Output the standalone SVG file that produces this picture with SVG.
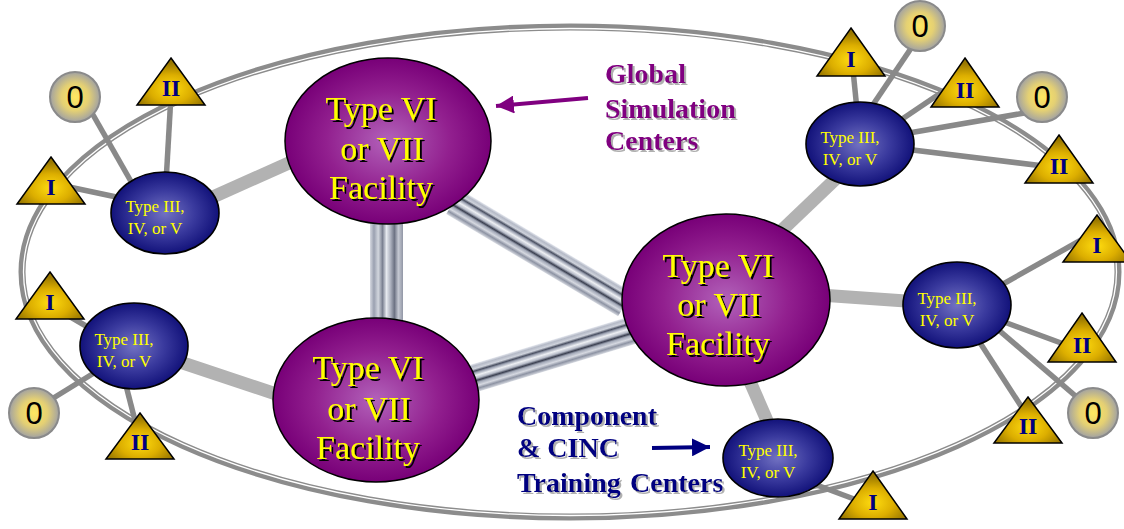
<svg xmlns="http://www.w3.org/2000/svg" width="1124" height="529" viewBox="0 0 1124 529">
<defs>
<radialGradient id="gPurple" cx="0.5" cy="0.5" r="0.5">
<stop offset="0" stop-color="#b262ba"/><stop offset="0.6" stop-color="#92208f"/><stop offset="1" stop-color="#780078"/>
</radialGradient>
<radialGradient id="gBlue" cx="0.5" cy="0.5" r="0.5">
<stop offset="0" stop-color="#7272c2"/><stop offset="0.55" stop-color="#3a3a9e"/><stop offset="1" stop-color="#12127a"/>
</radialGradient>
<radialGradient id="gGold" cx="0.5" cy="0.66" r="0.55">
<stop offset="0" stop-color="#ffdc10"/><stop offset="0.55" stop-color="#dcae00"/><stop offset="1" stop-color="#9a7800"/>
</radialGradient>
<radialGradient id="gZero" cx="0.5" cy="0.5" r="0.5">
<stop offset="0" stop-color="#ffe860"/><stop offset="0.55" stop-color="#e4d074"/><stop offset="1" stop-color="#a2a2a2"/>
</radialGradient>
<linearGradient id="gTube" x1="0" y1="0" x2="0" y2="1">
<stop offset="0" stop-color="#e4e7ee"/><stop offset="0.08" stop-color="#b4b9c6"/><stop offset="0.18" stop-color="#cfd3dc"/>
<stop offset="0.26" stop-color="#4a5062"/><stop offset="0.32" stop-color="#9ca2b2"/><stop offset="0.42" stop-color="#eef0f4"/>
<stop offset="0.52" stop-color="#b6bbc8"/><stop offset="0.6" stop-color="#3a3f50"/><stop offset="0.67" stop-color="#a3a9b8"/>
<stop offset="0.78" stop-color="#d6d9e1"/><stop offset="0.88" stop-color="#8d93a3"/><stop offset="1" stop-color="#d8dbe2"/>
</linearGradient>
<linearGradient id="gTubeV" x1="0" y1="0" x2="1" y2="0">
<stop offset="0" stop-color="#d6d9e1"/><stop offset="0.12" stop-color="#9aa0b0"/><stop offset="0.25" stop-color="#d2d6de"/>
<stop offset="0.38" stop-color="#7b8192"/><stop offset="0.5" stop-color="#e6e9ef"/><stop offset="0.62" stop-color="#aeb3c0"/>
<stop offset="0.74" stop-color="#6d7384"/><stop offset="0.86" stop-color="#c4c8d2"/><stop offset="1" stop-color="#9297a6"/>
</linearGradient>
<filter id="shBlack" x="-10%" y="-10%" width="130%" height="140%">
<feDropShadow dx="2" dy="2" stdDeviation="0.2" flood-color="#000000"/>
</filter>
<filter id="shGray" x="-10%" y="-10%" width="130%" height="140%">
<feDropShadow dx="2" dy="2" stdDeviation="0.6" flood-color="#b0b0b0"/>
</filter>
<marker id="arrPurple" markerUnits="userSpaceOnUse" markerWidth="20" markerHeight="18" refX="18" refY="9" orient="auto">
<path d="M0,0 L18,9 L0,18 Z" fill="#800080"/>
</marker>
<marker id="arrNavy" markerUnits="userSpaceOnUse" markerWidth="20" markerHeight="18" refX="18" refY="9" orient="auto">
<path d="M0,0 L18,9 L0,18 Z" fill="#000080"/>
</marker>
<style>
.ring{fill:none;stroke:#8c8c8c;stroke-width:7}
.ringIn{fill:none;stroke:#ffffff;stroke-width:1.3}
.thin{stroke:#898989;stroke-width:5.5;fill:none}
.thick{stroke:#b2b2b2;stroke-width:13;fill:none}
.purple{fill:url(#gPurple);stroke:#000;stroke-width:1.5}
.blue{fill:url(#gBlue);stroke:#000;stroke-width:1.6}
.tri{fill:url(#gGold);stroke:#000;stroke-width:1.5;stroke-linejoin:miter}
.zero{fill:url(#gZero);stroke:#8a8a8a;stroke-width:2}
.big{font-family:"Liberation Serif","Times New Roman",serif;font-size:34px;fill:#ffff00;text-anchor:middle;filter:url(#shBlack)}
.small{font-family:"Liberation Serif","Times New Roman",serif;font-size:17px;fill:#ffff00;text-anchor:middle}
.num{font-family:"Liberation Serif","Times New Roman",serif;font-size:24px;font-weight:bold;fill:#000080;text-anchor:middle}
.zt{font-family:"Liberation Sans",Arial,sans-serif;font-size:31px;fill:#000;text-anchor:middle}
.lblP{font-family:"Liberation Serif","Times New Roman",serif;font-size:28px;font-weight:bold;fill:#800080;filter:url(#shGray)}
.lblN{font-family:"Liberation Serif","Times New Roman",serif;font-size:28px;font-weight:bold;fill:#000080;filter:url(#shGray)}
</style>
</defs>
<rect width="1124" height="529" fill="#ffffff"/>
<g id="ring">
<ellipse class="ring" cx="570" cy="272" rx="548" ry="245"/>
<ellipse class="ringIn" cx="570" cy="272" rx="546.5" ry="243.5"/>
</g>
<g id="connectors">
<line class="thin" x1="84" y1="99" x2="141" y2="199"/>
<line class="thin" x1="171" y1="95" x2="165" y2="200"/>
<line class="thin" x1="55" y1="184" x2="140" y2="202"/>
<line class="thin" x1="50" y1="305" x2="110" y2="340"/>
<line class="thin" x1="34" y1="410" x2="115" y2="360"/>
<line class="thin" x1="122" y1="370" x2="140" y2="440"/>
<line class="thin" x1="852" y1="60" x2="860" y2="140"/>
<line class="thin" x1="920" y1="35" x2="864" y2="118"/>
<line class="thin" x1="960" y1="80" x2="880" y2="134"/>
<line class="thin" x1="1042" y1="110" x2="880" y2="138"/>
<line class="thin" x1="1060" y1="168" x2="880" y2="146"/>
<line class="thin" x1="1090" y1="235" x2="980" y2="297"/>
<line class="thin" x1="1080" y1="350" x2="980" y2="313"/>
<line class="thin" x1="1093" y1="411" x2="980" y2="314"/>
<line class="thin" x1="1030" y1="420" x2="975" y2="335"/>
<line class="thin" x1="790" y1="475" x2="870" y2="505"/>
<line class="thick" x1="195" y1="205" x2="300" y2="158"/>
<line class="thick" x1="165" y1="357" x2="285" y2="397"/>
<line class="thick" x1="780" y1="232" x2="845" y2="170"/>
<line class="thick" x1="820" y1="295" x2="920" y2="302"/>
<line class="thick" x1="745" y1="370" x2="772" y2="432"/>
<rect x="370" y="210" width="33" height="120" fill="url(#gTubeV)"/>
<g transform="translate(462,207) rotate(30.8)"><rect x="-10" y="-14" width="200" height="28" fill="url(#gTube)"/></g>
<g transform="translate(475,378) rotate(-16.9)"><rect x="-10" y="-14" width="180" height="28" fill="url(#gTube)"/></g>
<line x1="588" y1="98" x2="496" y2="106" stroke="#800080" stroke-width="4" marker-end="url(#arrPurple)"/>
<line x1="652" y1="448" x2="710" y2="447" stroke="#000080" stroke-width="4" marker-end="url(#arrNavy)"/>
</g>
<g id="facility-top">
<ellipse class="purple" cx="388" cy="141" rx="103" ry="83"/>
<text class="big" x="381" y="120">Type VI</text>
<text class="big" x="382" y="160">or VII</text>
<text class="big" x="381" y="199">Facility</text>
</g>
<g id="facility-bottom">
<ellipse class="purple" cx="376" cy="400" rx="103" ry="82"/>
<text class="big" x="368" y="379">Type VI</text>
<text class="big" x="369" y="420">or VII</text>
<text class="big" x="368" y="459">Facility</text>
</g>
<g id="facility-right">
<ellipse class="purple" cx="726" cy="300" rx="104" ry="86"/>
<text class="big" x="718" y="277">Type VI</text>
<text class="big" x="719" y="316">or VII</text>
<text class="big" x="718" y="355">Facility</text>
</g>
<g id="center-tl">
<ellipse class="blue" cx="165" cy="213" rx="54" ry="41"/>
<text class="small" x="155" y="212">Type III,</text>
<text class="small" x="155" y="234">IV, or V</text>
</g>
<g id="center-bl">
<ellipse class="blue" cx="134" cy="346" rx="54" ry="43"/>
<text class="small" x="124" y="345">Type III,</text>
<text class="small" x="124" y="367">IV, or V</text>
</g>
<g id="center-tr">
<ellipse class="blue" cx="860" cy="144" rx="54" ry="42"/>
<text class="small" x="850" y="143">Type III,</text>
<text class="small" x="850" y="165">IV, or V</text>
</g>
<g id="center-r">
<ellipse class="blue" cx="957" cy="305" rx="54" ry="43"/>
<text class="small" x="947" y="304">Type III,</text>
<text class="small" x="947" y="326">IV, or V</text>
</g>
<g id="center-b">
<ellipse class="blue" cx="778" cy="458" rx="55" ry="39"/>
<text class="small" x="768" y="456">Type III,</text>
<text class="small" x="768" y="478">IV, or V</text>
</g>
<g id="tri-tl-II"><polygon class="tri" points="171,58 205,105 137,105"/><text class="num" x="171" y="96">II</text></g>
<g id="tri-l-I"><polygon class="tri" points="51,157 85,204 17,204"/><text class="num" x="51" y="195">I</text></g>
<g id="tri-bl-I"><polygon class="tri" points="50,272 84,319 16,319"/><text class="num" x="50" y="310">I</text></g>
<g id="tri-bl-II"><polygon class="tri" points="140,413 174,459 106,459"/><text class="num" x="140" y="450">II</text></g>
<g id="tri-tr-I"><polygon class="tri" points="851,28 885,76 817,76"/><text class="num" x="851" y="67">I</text></g>
<g id="tri-tr-II-a"><polygon class="tri" points="965,58 999,107 931,107"/><text class="num" x="965" y="98">II</text></g>
<g id="tri-tr-II-b"><polygon class="tri" points="1059,135 1093,183 1025,183"/><text class="num" x="1059" y="174">II</text></g>
<g id="tri-r-I"><polygon class="tri" points="1097,215 1131,262 1063,262"/><text class="num" x="1097" y="253">I</text></g>
<g id="tri-r-II"><polygon class="tri" points="1082,313 1116,362 1048,362"/><text class="num" x="1082" y="353">II</text></g>
<g id="tri-br-II"><polygon class="tri" points="1028,397 1062,443 994,443"/><text class="num" x="1028" y="434">II</text></g>
<g id="tri-b-I"><polygon class="tri" points="873,471 907,519 839,519"/><text class="num" x="873" y="510">I</text></g>
<g id="zero-tl"><circle class="zero" cx="75" cy="97" r="25"/><text class="zt" x="75" y="108">0</text></g>
<g id="zero-bl"><circle class="zero" cx="34" cy="413" r="25"/><text class="zt" x="34" y="424">0</text></g>
<g id="zero-tr-a"><circle class="zero" cx="920" cy="26" r="25"/><text class="zt" x="920" y="37">0</text></g>
<g id="zero-tr-b"><circle class="zero" cx="1042" cy="97" r="25"/><text class="zt" x="1042" y="108">0</text></g>
<g id="zero-br"><circle class="zero" cx="1093" cy="413" r="25"/><text class="zt" x="1093" y="424">0</text></g>
<g id="label-global">
<text class="lblP" x="605" y="83">Global</text>
<text class="lblP" x="605" y="118">Simulation</text>
<text class="lblP" x="605" y="150">Centers</text>
</g>
<g id="label-component">
<text class="lblN" x="517" y="425">Component</text>
<text class="lblN" x="517" y="457">&amp; CINC</text>
<text class="lblN" x="517" y="492">Training</text>
<text class="lblN" x="630" y="492">Centers</text>
</g>
</svg>
